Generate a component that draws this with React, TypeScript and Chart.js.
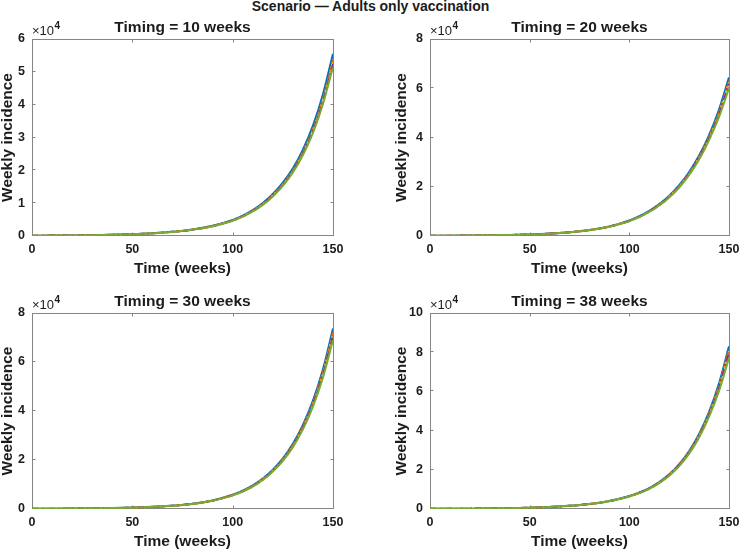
import { useEffect, useRef } from "react";
import { Chart, registerables } from "chart.js";

Chart.register(...registerables);

const FONT_FAMILY = '"Liberation Sans", Arial, Helvetica, sans-serif';
const INK = "#1c1c1c";
const AXIS_GREY = "#858585";

const figureTitle = "Scenario — Adults only vaccination";
const panelTitles = [
  "Timing = 10 weeks",
  "Timing = 20 weeks",
  "Timing = 30 weeks",
  "Timing = 38 weeks",
];
const xAxisTitle = "Time (weeks)";
const yAxisTitle = "Weekly incidence";

const weeks = [0, 10, 20, 30, 40, 50, 60, 70, 80, 90, 100, 105, 110, 115, 120, 125, 130, 135, 140, 145, 150];
const xTickValues = [0, 50, 100, 150];
const yAxisMax = [60000, 80000, 80000, 100000];
const yTickStep = [10000, 20000, 20000, 20000];

// Timing = 10 weeks
const t10Blue = [90, 120, 170, 250, 370, 560, 850, 1300, 2000, 3100, 4900, 6220, 7900, 10060, 12800, 16240, 20600, 26310, 33600, 43180, 55500];
const t10Orange = [90, 120, 170, 248, 366, 553, 838, 1280, 1965, 3040, 4790, 6070, 7700, 9790, 12450, 15780, 19990, 25510, 32550, 41770, 53600];
const t10Yellow = [90, 120, 169, 247, 364, 550, 833, 1272, 1952, 3018, 4752, 6024, 7636, 9707, 12340, 15630, 19800, 25260, 32220, 41320, 53000];
const t10Purple = [90, 119, 168, 246, 362, 547, 828, 1264, 1938, 2995, 4714, 5974, 7570, 9620, 12225, 15480, 19610, 25010, 31900, 40880, 52400];
const t10Green = [89, 118, 167, 244, 359, 542, 820, 1250, 1915, 2958, 4652, 5893, 7465, 9484, 12050, 15260, 19320, 24630, 31400, 40210, 51500];

// Timing = 20 weeks
const t20Blue = [90, 130, 190, 280, 420, 640, 990, 1550, 2450, 3900, 6300, 8020, 10200, 12930, 16400, 20650, 26000, 32650, 41000, 51380, 64400];
const t20Orange = [90, 129, 188, 277, 415, 632, 977, 1528, 2413, 3838, 6195, 7880, 10020, 12700, 16100, 20260, 25500, 32000, 40150, 50290, 63000];
const t20Yellow = [90, 129, 187, 276, 413, 629, 972, 1520, 2400, 3815, 6155, 7830, 9955, 12620, 15990, 20120, 25310, 31750, 39840, 49860, 62400];
const t20Purple = [89, 128, 186, 275, 411, 626, 967, 1511, 2386, 3791, 6115, 7775, 9885, 12525, 15870, 19960, 25110, 31500, 39510, 49410, 61800];
const t20Green = [89, 127, 185, 273, 408, 620, 958, 1497, 2362, 3750, 6045, 7685, 9765, 12370, 15670, 19700, 24770, 31060, 38950, 48340, 60000];

// Timing = 30 weeks
const t30Blue = [90, 120, 170, 250, 370, 570, 880, 1370, 2150, 3500, 5800, 7460, 9600, 12390, 16000, 20630, 26600, 34290, 44200, 57070, 73700];
const t30Orange = [90, 120, 169, 248, 367, 565, 871, 1355, 2125, 3455, 5720, 7355, 9455, 12200, 15740, 20280, 26130, 33660, 43350, 55950, 72200];
const t30Yellow = [90, 119, 168, 247, 365, 562, 866, 1347, 2111, 3431, 5677, 7300, 9380, 12100, 15605, 20100, 25890, 33330, 42920, 55400, 71500];
const t30Purple = [89, 119, 168, 246, 363, 559, 861, 1339, 2097, 3407, 5634, 7240, 9305, 12000, 15470, 19920, 25650, 33010, 42490, 54810, 70700];
const t30Green = [89, 118, 167, 244, 360, 554, 853, 1325, 2074, 3367, 5562, 7145, 9180, 11830, 15245, 19620, 25250, 32480, 41770, 53690, 69000];

// Timing = 38 weeks
const t38Blue = [90, 130, 190, 290, 440, 680, 1050, 1650, 2600, 4100, 6600, 8400, 10700, 13760, 17700, 22890, 29600, 38280, 49500, 64100, 83000];
const t38Orange = [90, 129, 189, 288, 436, 674, 1040, 1633, 2572, 4054, 6520, 8300, 10560, 13570, 17450, 22550, 29150, 37680, 48700, 62960, 81400];
const t38Yellow = [90, 129, 188, 287, 434, 671, 1035, 1625, 2558, 4031, 6480, 8245, 10490, 13480, 17330, 22390, 28930, 37380, 48310, 62400, 80600];
const t38Purple = [89, 128, 187, 286, 432, 668, 1030, 1617, 2544, 4008, 6440, 8190, 10420, 13390, 17205, 22220, 28710, 37090, 47920, 61840, 79800];
const t38Green = [89, 127, 186, 283, 428, 662, 1020, 1600, 2516, 3962, 6360, 8085, 10280, 13200, 16960, 21900, 28270, 36510, 47150, 60250, 77000];

const panelSeries = [
  [t10Blue, t10Orange, t10Yellow, t10Purple, t10Green],
  [t20Blue, t20Orange, t20Yellow, t20Purple, t20Green],
  [t30Blue, t30Orange, t30Yellow, t30Purple, t30Green],
  [t38Blue, t38Orange, t38Yellow, t38Purple, t38Green],
];

const lineColors = ["#0072BD", "#D95319", "#EDB120", "#7E2F8E", "#77AC30"];
const lineDashes = [[], [6, 3], [2, 2], [7, 3, 2, 3], []];

// Canvas frame of each panel and its plot box, in page pixels
const frames = [
  { left: 0, top: 0, width: 370, height: 280, plot: { left: 32, top: 39, right: 333, bottom: 236 }, yTitlePad: 0, xTitlePad: 4 },
  { left: 370, top: 0, width: 390, height: 280, plot: { left: 430, top: 39, right: 729, bottom: 236 }, yTitlePad: 24, xTitlePad: 4 },
  { left: 0, top: 275, width: 370, height: 275, plot: { left: 32, top: 313, right: 333, bottom: 509 }, yTitlePad: 0, xTitlePad: 1 },
  { left: 370, top: 275, width: 390, height: 275, plot: { left: 430, top: 313, right: 729, bottom: 509 }, yTitlePad: 24, xTitlePad: 1 },
];

function panelDecor(idx: number) {
  return {
    id: "panelDecor",
    beforeDatasetsDraw(chart: any) {
      const { ctx, chartArea: a, scales } = chart;
      const L = Math.round(a.left) + 0.5;
      const R = Math.round(a.right) + 0.5;
      const T = Math.round(a.top) + 0.5;
      const B = Math.round(a.bottom) - 0.5;
      ctx.save();
      ctx.strokeStyle = AXIS_GREY;
      ctx.lineWidth = 1;
      ctx.strokeRect(L, T, R - L, B - T);
      ctx.beginPath();
      const tick = 3;
      for (const v of xTickValues) {
        if (v === scales.x.min || v === scales.x.max) continue;
        const px = Math.round(scales.x.getPixelForValue(v)) + 0.5;
        ctx.moveTo(px, B);
        ctx.lineTo(px, B - tick);
        ctx.moveTo(px, T);
        ctx.lineTo(px, T + tick);
      }
      for (const t of scales.y.ticks) {
        if (t.value === scales.y.min || t.value === scales.y.max) continue;
        const py = Math.round(scales.y.getPixelForValue(t.value)) - 0.5;
        ctx.moveTo(L, py);
        ctx.lineTo(L + tick, py);
        ctx.moveTo(R, py);
        ctx.lineTo(R - tick, py);
      }
      ctx.stroke();
      ctx.restore();
    },
    afterDraw(chart: any) {
      const { ctx, chartArea: a } = chart;
      ctx.save();
      ctx.fillStyle = INK;
      ctx.textBaseline = "alphabetic";
      ctx.textAlign = "center";
      ctx.font = `bold 15.5px ${FONT_FAMILY}`;
      ctx.fillText(panelTitles[idx], (a.left + a.right) / 2, a.top - 7);

      // axis multiplier ×10^4
      ctx.textAlign = "left";
      const base = a.top - 4;
      let x = a.left;
      ctx.font = `13px ${FONT_FAMILY}`;
      ctx.fillText("×", x, base);
      x += ctx.measureText("×").width;
      ctx.font = `13px ${FONT_FAMILY}`;
      ctx.fillText("10", x, base);
      x += ctx.measureText("10").width + 0.5;
      ctx.font = `bold 10px ${FONT_FAMILY}`;
      ctx.fillText("4", x, base - 6);
      ctx.restore();
    },
  };
}

function buildChart(canvas: HTMLCanvasElement, idx: number) {
  const f = frames[idx];
  const p = f.plot;
  const tickFont = { family: FONT_FAMILY, size: 12.5, weight: "bold" as const };
  const labelFont = { family: FONT_FAMILY, size: 15.5, weight: "bold" as const, lineHeight: 1 };
  const series = panelSeries[idx];
  return new Chart(canvas, {
    type: "line",
    data: {
      datasets: series.map((vals, k) => ({
        label: `curve ${k + 1}`,
        data: weeks.map((w, i) => ({ x: w, y: vals[i] })),
        borderColor: lineColors[k],
        backgroundColor: lineColors[k],
        borderWidth: 2,
        borderDash: lineDashes[k],
        pointRadius: 0,
        fill: false,
        // later curves are drawn over earlier ones
        order: series.length - k,
        cubicInterpolationMode: "monotone" as const,
      })),
    },
    options: {
      responsive: false,
      animation: false,
      events: [],
      layout: {
        padding: {
          left: 0,
          top: p.top - f.top,
          right: f.left + f.width - p.right,
          bottom: 0,
        },
      },
      plugins: {
        legend: { display: false },
        tooltip: { enabled: false },
        title: { display: false },
      },
      scales: {
        x: {
          type: "linear",
          min: 0,
          max: 150,
          afterBuildTicks: (s: any) => {
            s.ticks = xTickValues.map((v) => ({ value: v }));
          },
          afterFit: (s: any) => {
            s.height = f.top + f.height - p.bottom;
          },
          ticks: { font: tickFont, color: INK, padding: 6, maxRotation: 0, autoSkip: false },
          grid: { display: false, drawTicks: false },
          border: { display: false },
          title: {
            display: true,
            text: xAxisTitle,
            font: labelFont,
            color: INK,
            padding: { top: 0, bottom: f.xTitlePad },
          },
        },
        y: {
          type: "linear",
          min: 0,
          max: yAxisMax[idx],
          afterFit: (s: any) => {
            s.width = p.left - f.left;
          },
          ticks: {
            stepSize: yTickStep[idx],
            font: tickFont,
            color: INK,
            padding: 7,
            callback: (v: any) => String(Number(v) / 10000),
          },
          grid: { display: false, drawTicks: false },
          border: { display: false },
          title: {
            display: true,
            text: yAxisTitle,
            font: labelFont,
            color: INK,
            padding: { top: f.yTitlePad, bottom: 0 },
          },
        },
      },
    },
    plugins: [panelDecor(idx)],
  });
}

export default function App() {
  const refs = [
    useRef<HTMLCanvasElement>(null),
    useRef<HTMLCanvasElement>(null),
    useRef<HTMLCanvasElement>(null),
    useRef<HTMLCanvasElement>(null),
  ];

  useEffect(() => {
    const charts = refs.map((r, i) => buildChart(r.current as HTMLCanvasElement, i));
    return () => charts.forEach((c) => c.destroy());
  }, []);

  return (
    <div
      style={{
        position: "absolute",
        left: 0,
        top: 0,
        width: 741,
        height: 550,
        background: "#ffffff",
        overflow: "hidden",
      }}
    >
      <div
        style={{
          position: "absolute",
          left: 0,
          top: -1,
          width: 741,
          textAlign: "center",
          font: `bold 14px ${FONT_FAMILY}`,
          lineHeight: "14px",
          color: INK,
          whiteSpace: "nowrap",
        }}
      >
        {figureTitle}
      </div>
      {frames.map((f, i) => (
        <canvas
          key={i}
          ref={refs[i]}
          width={f.width}
          height={f.height}
          style={{
            position: "absolute",
            left: f.left,
            top: f.top,
            width: f.width,
            height: f.height,
          }}
        />
      ))}
    </div>
  );
}
